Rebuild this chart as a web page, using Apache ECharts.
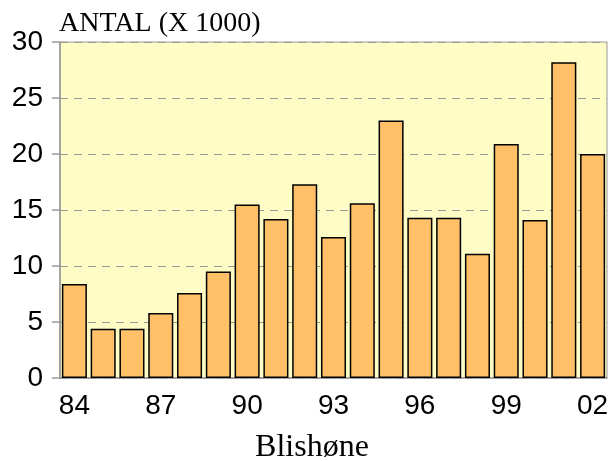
<!DOCTYPE html>
<html lang="da">
<head>
    <meta charset="UTF-8">
    <title>Blishøne</title>
    <script src="https://cdn.jsdelivr.net/npm/echarts@6.0.0/dist/echarts.min.js"></script>
</head>
<body style="margin:0">
    <div id="main" style="width: 611px; height: 461px;"></div>
    <script type="text/javascript">
        // years 1984-2002, counts in thousands
        const years = ['84', '85', '86', '87', '88', '89', '90', '91', '92', '93',
                       '94', '95', '96', '97', '98', '99', '00', '01', '02'];
        const counts = [8.4, 4.4, 4.4, 5.8, 7.6, 9.5, 15.5, 14.2, 17.3, 12.6,
                        15.6, 23.0, 14.3, 14.3, 11.1, 20.9, 14.1, 28.2, 20.0];
        const yTicks = [0, 5, 10, 15, 20, 25, 30];

        let myChart = echarts.init(document.getElementById('main'));

        let options = {
            animation: false,
            grid: {
                left: 60, right: 4, top: 42, bottom: 83,
                outerBoundsMode: 'none',
                containLabel: false,
                show: true,
                backgroundColor: '#FFFDC6',
                borderColor: '#999',
                borderWidth: 1
            },
            // unit label above the plot and the species name below it
            graphic: [{
                type: 'text', x: 59, y: 24,
                style: {
                    text: 'ANTAL (X 1000)', font: '28px "Liberation Serif"', fill: '#000',
                    textAlign: 'left', textVerticalAlign: 'middle'
                }
            }, {
                type: 'text', x: 312, y: 448,
                style: {
                    text: 'Blishøne', font: '32px "Liberation Serif"', fill: '#000',
                    textAlign: 'center', textVerticalAlign: 'middle'
                }
            }],
            xAxis: {
                type: 'category',
                data: years,
                axisLine: { lineStyle: { color: '#999', width: 1.5 } },
                axisTick: {
                    alignWithLabel: true, length: 8,
                    interval: (i) => i % 3 === 0,
                    lineStyle: { color: '#999', width: 1.5 }
                },
                axisLabel: {
                    interval: (i) => i % 3 === 0,
                    margin: 14,
                    fontFamily: 'Liberation Sans', fontSize: 28, color: '#000'
                }
            },
            yAxis: {
                type: 'value',
                min: yTicks[0],
                max: yTicks[yTicks.length - 1],
                interval: 5,
                axisLine: { show: true, lineStyle: { color: '#999', width: 1.5 } },
                axisTick: { show: true, length: 8, lineStyle: { color: '#999', width: 1.5 } },
                axisLabel: {
                    margin: 17,
                    fontFamily: 'Liberation Sans', fontSize: 28, color: '#000'
                },
                splitLine: { lineStyle: { color: '#999', type: [8, 6], width: 1 } }
            },
            series: [{
                type: 'bar',
                data: counts,
                barCategoryGap: '13%',
                itemStyle: { color: '#FFC068', borderColor: '#000', borderWidth: 1.5 }
            }]
        };

        myChart.setOption(options);
    </script>
</body>
</html>
